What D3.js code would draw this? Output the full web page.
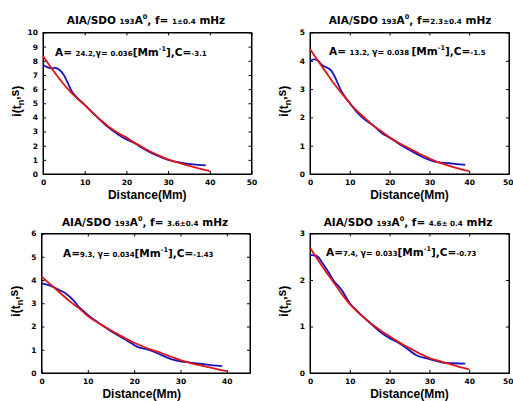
<!DOCTYPE html>
<html><head><meta charset="utf-8">
<script src="https://cdn.jsdelivr.net/npm/d3@7/dist/d3.min.js"></script>
<style>body{margin:0;background:#fff}svg{display:block}text{font-weight:bold;fill:#000}</style>
</head><body><svg id="c" width="513" height="401"></svg>
<script>
// ---- data ----
const redX = [0,2,4,6,8,10,12,14,16,18,20,22,24,26,28,30,32,34,36,38,40];
const p1Red = [8.34,7.5,6.7,6.0,5.4,4.88,4.3,3.78,3.28,2.9,2.57,2.2,1.87,1.55,1.28,1.04,0.84,0.66,0.5,0.35,0.21];
const p1BlueX = [0,1,2,3,4,5,6,7,8,10,12,15,18,20,22,24,27,30,33,36,39];
const p1Blue = [7.7,7.55,7.47,7.5,7.35,7.0,6.4,5.8,5.45,4.88,4.3,3.46,2.8,2.45,2.17,1.8,1.34,1.0,0.8,0.68,0.62];

const p2Red = [4.42,4.0,3.6,3.2,2.85,2.5,2.2,1.95,1.7,1.5,1.3,1.12,0.97,0.83,0.68,0.55,0.43,0.33,0.24,0.16,0.1];
const p2BlueX = [0,1,2,3,5,6,7,8,10,12,14,16,18,20,22,25,28,30,32,35,37,39];
const p2Blue = [4.0,4.05,4.0,3.85,3.7,3.5,3.2,2.9,2.5,2.15,1.9,1.7,1.45,1.28,1.1,0.85,0.62,0.5,0.42,0.38,0.35,0.32];

const p3Red = [4.15,3.8,3.45,3.1,2.8,2.45,2.18,1.95,1.72,1.5,1.3,1.13,0.98,0.85,0.7,0.55,0.44,0.34,0.25,0.16,0.08];
const p3BlueX = [0,2,4,5,7,8,10,12,15,18,20,21,23,25,28,30,32,35,37,39];
const p3Blue = [3.85,3.75,3.55,3.45,3.1,2.85,2.5,2.2,1.8,1.45,1.2,1.1,1.0,0.85,0.6,0.5,0.45,0.38,0.33,0.3];

const p4Red = [2.7,2.43,2.18,1.94,1.7,1.48,1.31,1.16,1.02,0.9,0.79,0.68,0.58,0.49,0.4,0.32,0.27,0.22,0.17,0.12,0.08];
const p4BlueX = [0,1,2,3,5,6,8,10,12,15,18,20,22,24,27,30,33,36,39];
const p4Blue = [2.54,2.53,2.5,2.38,2.12,1.98,1.78,1.5,1.32,1.08,0.86,0.75,0.66,0.55,0.37,0.3,0.23,0.21,0.2];

const xTicks = [0,10,20,30,40,50];
const xTicks3 = [0,10,20,30,40];
const p1YTicks = [0,1,2,3,4,5,6,7,8,9,10];
const p2YTicks = [0,1,2,3,4,5];
const p3YTicks = [0,1,2,3,4,5,6];
const p4YTicks = [0,1,2,3];

const titles = [
  [["AIA/SDO ",10.5],["193",7.2],["A",10.5],["0",6.5,"sup"],[", f= ",10.5],["1±0.4",7.2],[" mHz",10.5]],
  [["AIA/SDO ",10.5],["193",7.2],["A",10.5],["0",6.5,"sup"],[", f=",10.5],["2.3±0.4",7.2],["  mHz",10.5]],
  [["AIA/SDO ",10.5],["193",7.2],["A",10.5],["0",6.5,"sup"],[", f= ",10.5],["3.6±0.4",7.2],[" mHz",10.5]],
  [["AIA/SDO ",10.5],["193",7.2],["A",10.5],["0",6.5,"sup"],[", f= ",10.5],["4.6± 0.4",7.2],[" mHz",10.5]]
];
const notes = [
  [["A= ",10.5],["24.2,",7],["γ= ",8],["0.036",7],["[Mm",10.5],["-1",6.5,"sup"],["],C=",10.5],["-3.1",7]],
  [["A= ",10.5],["13.2, ",7],["γ= ",8],["0.038 ",7],["[Mm",10.5],["-1",6.5,"sup"],["],C=",10.5],["-1.5",7]],
  [["A=",10.5],["9.3, ",7],["γ= ",8],["0.034",7],["[Mm",10.5],["-1",6.5,"sup"],["],C=",10.5],["-1.43",7]],
  [["A=",10.5],["7.4, ",7],["γ= ",8],["0.033",7],["[Mm",10.5],["-1",6.5,"sup"],["],C=",10.5],["-0.73",7]]
];

// ---- layout ----
const panels = [
  {box:[43,32.5,251.5,174], xd:[0,50], yd:[0,10], xt:xTicks, yt:p1YTicks, red:p1Red, bx:p1BlueX, blue:p1Blue, tx:146, ty:24, nx:55, ny:56},
  {box:[310,32.5,509,174], xd:[0,50], yd:[0,5], xt:xTicks, yt:p2YTicks, red:p2Red, bx:p2BlueX, blue:p2Blue, tx:410, ty:24, nx:329, ny:55},
  {box:[41.5,233.5,250,373], xd:[0,45], yd:[0,6], xt:xTicks3, yt:p3YTicks, red:p3Red, bx:p3BlueX, blue:p3Blue, tx:145, ty:226, nx:63, ny:257},
  {box:[310,233.5,509,373], xd:[0,50], yd:[0,3], xt:xTicks, yt:p4YTicks, red:p4Red, bx:p4BlueX, blue:p4Blue, tx:408, ty:226, nx:326, ny:256}
];

const svg = d3.select("#c");
const wide = "'DejaVu Sans', Verdana, sans-serif";
const narrow = "'Liberation Sans', Arial, sans-serif";

function rich(g, parts, x, y, anchor){
  const t = g.append("text").attr("x",x).attr("y",y).attr("text-anchor",anchor).style("font-family",wide);
  let off = 0;
  parts.forEach(p=>{
    const s = t.append("tspan").attr("font-size",p[1]).text(p[0]);
    if(p[2]==="sup"){ s.attr("dy",-5); off = -5; }
    else if(off!==0){ s.attr("dy",-off); off = 0; }
  });
  return t;
}

panels.forEach((P,i)=>{
  const [x0,y0,x1,y1] = P.box;
  const x = d3.scaleLinear().domain(P.xd).range([x0,x1]);
  const y = d3.scaleLinear().domain(P.yd).range([y1,y0]);
  const g = svg.append("g");

  const fmt = d3.format("d");
  const ax = g.append("g").attr("transform",`translate(0,${y1})`)
    .call(d3.axisBottom(x).tickValues(P.xt).tickFormat(fmt).tickSizeInner(-3).tickSizeOuter(0).tickPadding(6));
  const axT = g.append("g").attr("transform",`translate(0,${y0})`)
    .call(d3.axisTop(x).tickValues(P.xt).tickFormat("").tickSizeInner(-3).tickSizeOuter(0));
  const ay = g.append("g").attr("transform",`translate(${x0},0)`)
    .call(d3.axisLeft(y).tickValues(P.yt).tickFormat(fmt).tickSizeInner(-3).tickSizeOuter(0).tickPadding(5));
  const ayR = g.append("g").attr("transform",`translate(${x1},0)`)
    .call(d3.axisRight(y).tickValues(P.yt).tickFormat("").tickSizeInner(-3).tickSizeOuter(0));
  [ax,axT,ay,ayR].forEach(a=>{
    a.selectAll("path").attr("stroke","#000").attr("stroke-width",1);
    a.selectAll("line").attr("stroke","#000");
    a.selectAll("text").attr("font-size",7.5).style("font-family",wide).style("font-weight","bold");
  });
  // keep edge labels inside the page
  ax.selectAll(".tick").filter(d=>x(d)>505).select("text").attr("text-anchor","end").attr("dx",4);
  g.append("rect").attr("x",x0).attr("y",y0).attr("width",x1-x0).attr("height",y1-y0)
    .attr("fill","none").attr("stroke","#000").attr("stroke-width",1);

  const line = d3.line().x(d=>x(d[0])).y(d=>y(d[1])).curve(d3.curveCatmullRom);
  g.append("path").datum(P.bx.map((v,k)=>[v,P.blue[k]]))
    .attr("d",line).attr("fill","none").attr("stroke","#1414c0").attr("stroke-width",1.8);
  g.append("path").datum(redX.map((v,k)=>[v,P.red[k]]))
    .attr("d",line).attr("fill","none").attr("stroke","#e01414").attr("stroke-width",1.8);

  rich(g, titles[i], P.tx, P.ty, "middle");
  rich(g, notes[i], P.nx, P.ny, "start");

  g.append("text").attr("x",(x0+x1)/2 + (i===2?-4:0)).attr("y",y1+25).attr("text-anchor","middle")
    .style("font-family",narrow).attr("font-size",12).text("Distance(Mm)");

  const yl = g.append("text").attr("transform",`translate(${x0-22},${(y0+y1)/2-2}) rotate(-90)`)
    .attr("text-anchor","middle").style("font-family",narrow).attr("font-size",12);
  yl.append("tspan").text("i(t");
  yl.append("tspan").attr("font-size",9).attr("dy",3).text("n");
  yl.append("tspan").attr("dy",-5).text(",s");
  yl.append("tspan").attr("dy",2).text(")");
});
</script></body></html>
